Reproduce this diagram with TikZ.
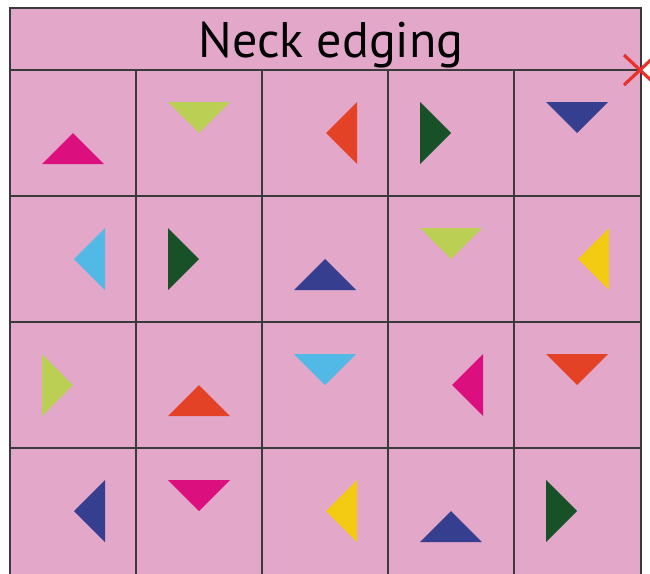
\documentclass[tikz,border=0pt]{standalone}
\usepackage{fontspec}
\setmainfont{PT Sans}
\usetikzlibrary{calc}
\definecolor{bgpink}{HTML}{E3A7CA}
\definecolor{cmag}{HTML}{DB107E}
\definecolor{cylg}{HTML}{BCCF55}
\definecolor{cred}{HTML}{E34226}
\definecolor{cdg}{HTML}{185027}
\definecolor{cnavy}{HTML}{353E8F}
\definecolor{clb}{HTML}{52B8E6}
\definecolor{cyel}{HTML}{F2CB12}
\definecolor{gridc}{HTML}{3A3A3A}
\definecolor{xred}{HTML}{E8312A}
\tikzset{
  gridline/.style={draw=gridc, line width=1.3pt},
  tri/.style={draw=none},
  crossline/.style={draw=xred, line width=3.2pt}
}
% cell center at (cx,cy); triangle apex at center
\newcommand{\tup}[3]{\fill[tri,#3] (#1,#2) -- (#1-31,#2+31) -- (#1+31,#2+31) -- cycle;}
\newcommand{\tdown}[3]{\fill[tri,#3] (#1,#2) -- (#1-31,#2-31) -- (#1+31,#2-31) -- cycle;}
\newcommand{\tleft}[3]{\fill[tri,#3] (#1,#2) -- (#1+31,#2-31) -- (#1+31,#2+31) -- cycle;}
\newcommand{\tright}[3]{\fill[tri,#3] (#1,#2) -- (#1-31,#2-31) -- (#1-31,#2+31) -- cycle;}
\begin{document}
\begin{tikzpicture}[x=1pt,y=-1pt]
\useasboundingbox (0,0) rectangle (650,573);
\begin{scope}
\clip (0,0) rectangle (650,573);
\fill[white] (0,0) rectangle (650,573);
\fill[bgpink] (10,8) rectangle (641,580);
% header
\node[font=\fontsize{50}{54}\selectfont, text=black, inner sep=0pt, anchor=base] (title) at (331,57) {Neck edging};
% grid
\draw[gridline] (10,8) rectangle (641,580);
\draw[gridline] (10,70) -- (641,70);
\foreach \y in {196,322,448} \draw[gridline] (10,\y) -- (641,\y);
\foreach \x in {136,262,388,514} \draw[gridline] (\x,70) -- (\x,580);
% row 1 (center y 133)
\tup{73}{133}{cmag}
\tdown{199}{133}{cylg}
\tleft{326}{133}{cred}
\tright{451}{133}{cdg}
\tdown{577}{133}{cnavy}
% row 2 (center y 259)
\tleft{74}{259}{clb}
\tright{199}{259}{cdg}
\tup{325}{259}{cnavy}
\tdown{451}{259}{cylg}
\tleft{578}{259}{cyel}
% row 3 (center y 385)
\tright{73}{385}{cylg}
\tup{199}{385}{cred}
\tdown{325}{385}{clb}
\tleft{452}{385}{cmag}
\tdown{577}{385}{cred}
% row 4 (center y 511)
\tleft{74}{511}{cnavy}
\tdown{199}{511}{cmag}
\tleft{326}{511}{cyel}
\tup{451}{511}{cnavy}
\tright{577}{511}{cdg}
% red cross
\coordinate (xc) at (640,70);
\draw[crossline] ($(xc)+(-16,-15)$) -- ($(xc)+(16,15)$);
\draw[crossline] ($(xc)+(-16,15)$) -- ($(xc)+(16,-15)$);
\end{scope}
\end{tikzpicture}
\end{document}
